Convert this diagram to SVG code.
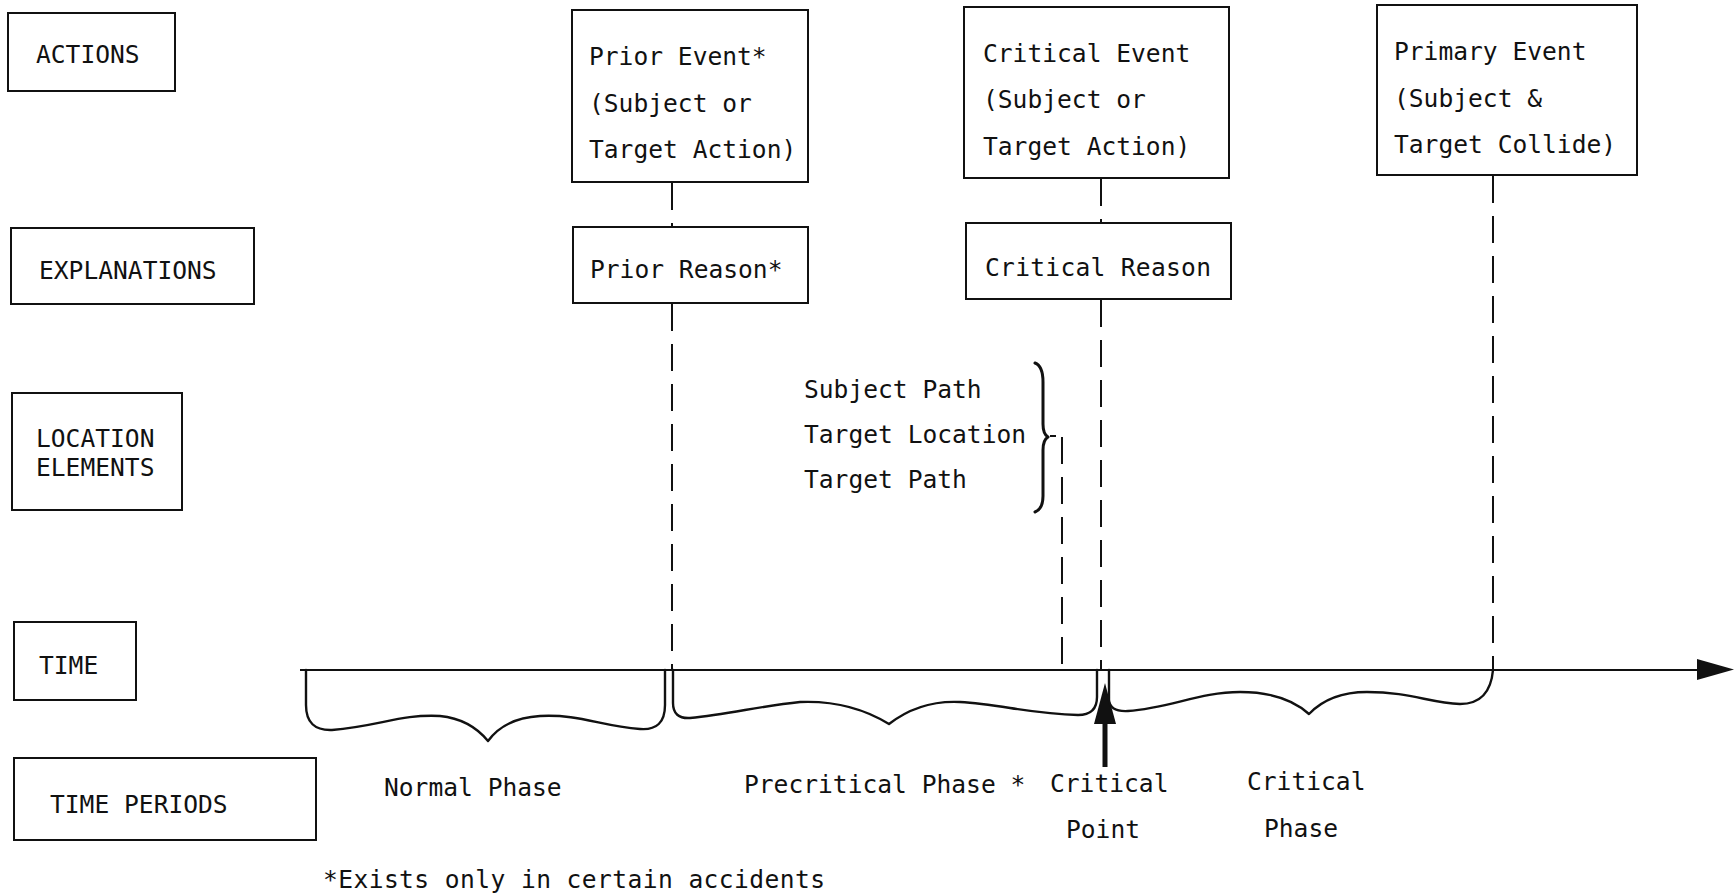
<svg xmlns="http://www.w3.org/2000/svg" width="1734" height="895" viewBox="0 0 1734 895">
<style>
text{font-family:"DejaVu Sans Mono","Liberation Mono",monospace;font-size:24.6px;fill:#111}
.box{fill:#fff;stroke:#111;stroke-width:2}
.dash{fill:none;stroke:#111;stroke-width:2;stroke-dasharray:27 13}
.line{fill:none;stroke:#111;stroke-width:2}
.brace{fill:none;stroke:#111;stroke-width:2.4;stroke-linejoin:round;stroke-linecap:round}
</style>
<rect width="1734" height="895" fill="#fff"/>
<g id="connectors">
<line class="dash" x1="672" y1="183" x2="672" y2="227"/>
<line class="dash" x1="672" y1="304" x2="672" y2="670"/>
<line class="dash" x1="1101" y1="179" x2="1101" y2="223"/>
<line class="dash" x1="1101" y1="300" x2="1101" y2="670"/>
<line class="dash" x1="1493" y1="176" x2="1493" y2="670"/>
<line class="dash" x1="1062" y1="437" x2="1062" y2="670"/>
<line class="line" x1="1050" y1="436" x2="1056" y2="436"/>
</g>
<g id="label-actions"><rect class="box" x="8" y="13" width="167" height="78"/><text x="36" y="63">ACTIONS</text></g>
<g id="label-explanations"><rect class="box" x="11" y="228" width="243" height="76"/><text x="39" y="279">EXPLANATIONS</text></g>
<g id="label-location-elements"><rect class="box" x="12" y="393" width="170" height="117"/><text x="36" y="447">LOCATION</text><text x="36" y="476">ELEMENTS</text></g>
<g id="label-time"><rect class="box" x="14" y="622" width="122" height="78"/><text x="39" y="674">TIME</text></g>
<g id="label-time-periods"><rect class="box" x="14" y="758" width="302" height="82"/><text x="50" y="813">TIME PERIODS</text></g>
<g id="prior-event"><rect class="box" x="572" y="10" width="236" height="172"/><text x="589" y="65">Prior Event*</text><text x="589" y="112">(Subject or</text><text x="589" y="158">Target Action)</text></g>
<g id="prior-reason"><rect class="box" x="573" y="227" width="235" height="76"/><text x="590" y="278">Prior Reason*</text></g>
<g id="critical-event"><rect class="box" x="964" y="7" width="265" height="171"/><text x="983" y="62">Critical Event</text><text x="983" y="108">(Subject or</text><text x="983" y="155">Target Action)</text></g>
<g id="critical-reason"><rect class="box" x="966" y="223" width="265" height="76"/><text x="985" y="276" textLength="226">Critical Reason</text></g>
<g id="primary-event"><rect class="box" x="1377" y="5" width="260" height="170"/><text x="1394" y="60">Primary Event</text><text x="1394" y="107">(Subject &amp;</text><text x="1394" y="153">Target Collide)</text></g>
<g id="location-elements"><text x="804" y="398">Subject Path</text><text x="804" y="443">Target Location</text><text x="804" y="488">Target Path</text>
<path class="brace" style="stroke-width:3" d="M1035,363 Q1043,366 1043,382 L1043,424 Q1043,434 1048,437 Q1043,440 1043,450 L1043,496 Q1043,509 1035,512"/></g>
<g id="time-axis"><line class="line" x1="300" y1="670" x2="1700" y2="670"/><polygon points="1697,659 1734,669.5 1697,680" fill="#111"/></g>
<g id="normal-phase"><path class="brace" d="M306,670 L306,705 Q306,731 332,730 C380,726 400,714 440,716 Q470,719 488,741 Q505,718 540,716 C580,714 600,726 640,729 Q665,731 665,705 L665,670"/><text x="384" y="796">Normal Phase</text></g>
<g id="precritical-phase"><path class="brace" d="M673,670 L673,703 Q673,719 690,718 C730,714 760,706 800,702 Q850,700 889,724 Q920,700 960,702 C1000,704 1030,714 1078,715 Q1097,715 1097,697 L1097,670"/><text x="744" y="793">Precritical Phase *</text></g>
<g id="critical-point"><line x1="1105" y1="767" x2="1105" y2="715" stroke="#111" stroke-width="5"/><polygon points="1105,683 1094,724 1116,724" fill="#111"/><text x="1050" y="792">Critical</text><text x="1066" y="838">Point</text></g>
<g id="critical-phase"><path class="brace" d="M1109,670 L1109,700 Q1110,712 1128,711 C1170,708 1200,692 1240,692 Q1285,692 1309,714 Q1330,692 1367,692 C1410,692 1430,703 1460,704 Q1490,704 1493,670"/><text x="1247" y="790">Critical</text><text x="1264" y="837">Phase</text></g>
<g id="footnote"><text x="323" y="888" textLength="502">*Exists only in certain accidents</text></g>
</svg>
